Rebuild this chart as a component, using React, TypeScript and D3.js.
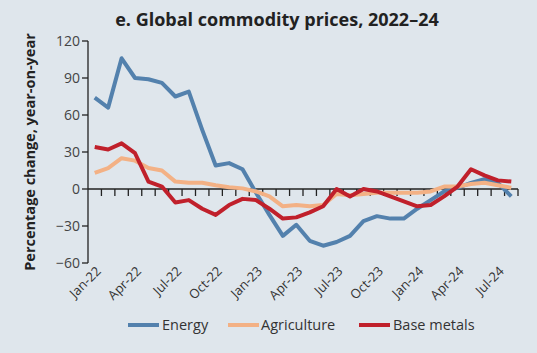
import React from "react";
import * as d3 from "d3";

const months = [
  "Jan-22","Feb-22","Mar-22","Apr-22","May-22","Jun-22","Jul-22","Aug-22","Sep-22","Oct-22","Nov-22","Dec-22",
  "Jan-23","Feb-23","Mar-23","Apr-23","May-23","Jun-23","Jul-23","Aug-23","Sep-23","Oct-23","Nov-23","Dec-23",
  "Jan-24","Feb-24","Mar-24","Apr-24","May-24","Jun-24","Jul-24","Aug-24",
];
const tickLabels = ["Jan-22","Apr-22","Jul-22","Oct-22","Jan-23","Apr-23","Jul-23","Oct-23","Jan-24","Apr-24","Jul-24"];
const energy = [74,66,106,90,89,86,75,79,48,19,21,16,-3,-21,-38,-29,-42,-46,-43,-38,-26,-22,-24,-24,-16,-9,-2,1,5,8,5,-6];
const agriculture = [13,17,25,23,17,15,6,5,5,3,1.5,0.5,-2,-6,-14,-13,-14,-13,-4,-5,-4,-3,-3,-3,-3,-2,2,2,4,5,3,1];
const baseMetals = [34,32,37,29,6,2,-11,-9,-16,-21,-13,-8,-9,-16,-24,-23,-19,-14,0,-6,0,-2,-6,-10,-14,-13,-6,2,16,11,7,6];
const yTicks = [120,90,60,30,0,-30,-60];

const series = [
  { name: "Energy", values: energy, color: "#5381ad" },
  { name: "Agriculture", values: agriculture, color: "#f3b185" },
  { name: "Base metals", values: baseMetals, color: "#c0202b" },
];

export default function App() {
  const W = 537, H = 353;
  const x0 = 88, x1 = 518;
  const x = d3.scaleBand<string>().domain(months).range([x0, x1]);
  const y = d3.scaleLinear().domain([-60, 120]).range([263, 41]);
  const cx = (m: string) => (x(m) as number) + x.bandwidth() / 2;
  const line = d3.line<number>().x((_, i) => cx(months[i])).y((d) => y(d));
  const font = "'Open Sans', sans-serif";
  const textCol = "#333";
  const legendItems = [
    { x: 128, tx: 162 },
    { x: 228, tx: 261 },
    { x: 359, tx: 393 },
  ];
  return (
    <svg width={W} height={H} style={{ position: "absolute", left: 0, top: 0, background: "#dfe6ec" }}>
      <rect x={0} y={0} width={W} height={H} fill="#dfe6ec" />
      <text x={277} y={26} textAnchor="middle" fontFamily={font} fontWeight="bold" fontSize={18} fill="#222">
        e. Global commodity prices, 2022–24
      </text>
      <text transform={`translate(35,152) rotate(-90)`} textAnchor="middle" fontFamily={font} fontWeight="bold" fontSize={14.5} fill="#222">
        Percentage change, year-on-year
      </text>
      {/* y axis */}
      <line x1={x0} x2={x0} y1={y(120)} y2={y(-60)} stroke="#222" strokeWidth={1.3} />
      {yTicks.map((t) => (
        <g key={t}>
          <line x1={x0 - 6} x2={x0} y1={y(t)} y2={y(t)} stroke="#222" strokeWidth={1.3} />
          <text x={x0 - 8} y={y(t)} dy="0.35em" textAnchor="end" fontFamily={font} fontSize={14} fill="#444">
            {t < 0 ? `\u2212${-t}` : t}
          </text>
        </g>
      ))}
      {/* zero line and ticks */}
      <line x1={x0} x2={x1} y1={y(0)} y2={y(0)} stroke="#222" strokeWidth={1.3} />
      {months.map((m, i) =>
        i > 0 ? (
          <line key={m} x1={x(m) as number} x2={x(m) as number} y1={y(0)} y2={y(0) + 7} stroke="#222" strokeWidth={1.3} />
        ) : null
      )}
      <line x1={x1} x2={x1} y1={y(0)} y2={y(0) + 7} stroke="#222" strokeWidth={1.3} />
      {/* x labels */}
      {tickLabels.map((m) => (
        <text key={m} transform={`translate(${cx(m) + 7},${272}) rotate(-45)`} textAnchor="end" fontFamily={font} fontSize={13} fill="#333">
          {m}
        </text>
      ))}
      {/* lines */}
      {series.map((s) => (
        <path key={s.name} d={line(s.values) as string} fill="none" stroke={s.color} strokeWidth={4} strokeLinejoin="round" />
      ))}
      {/* legend */}
      {series.map((s, i) => (
        <g key={s.name}>
          <line x1={legendItems[i].x} x2={legendItems[i].x + 31} y1={325} y2={325} stroke={s.color} strokeWidth={4} />
          <text x={legendItems[i].tx} y={325} dy="0.35em" fontFamily={font} fontSize={14.5} fill={textCol}>
            {s.name}
          </text>
        </g>
      ))}
    </svg>
  );
}
